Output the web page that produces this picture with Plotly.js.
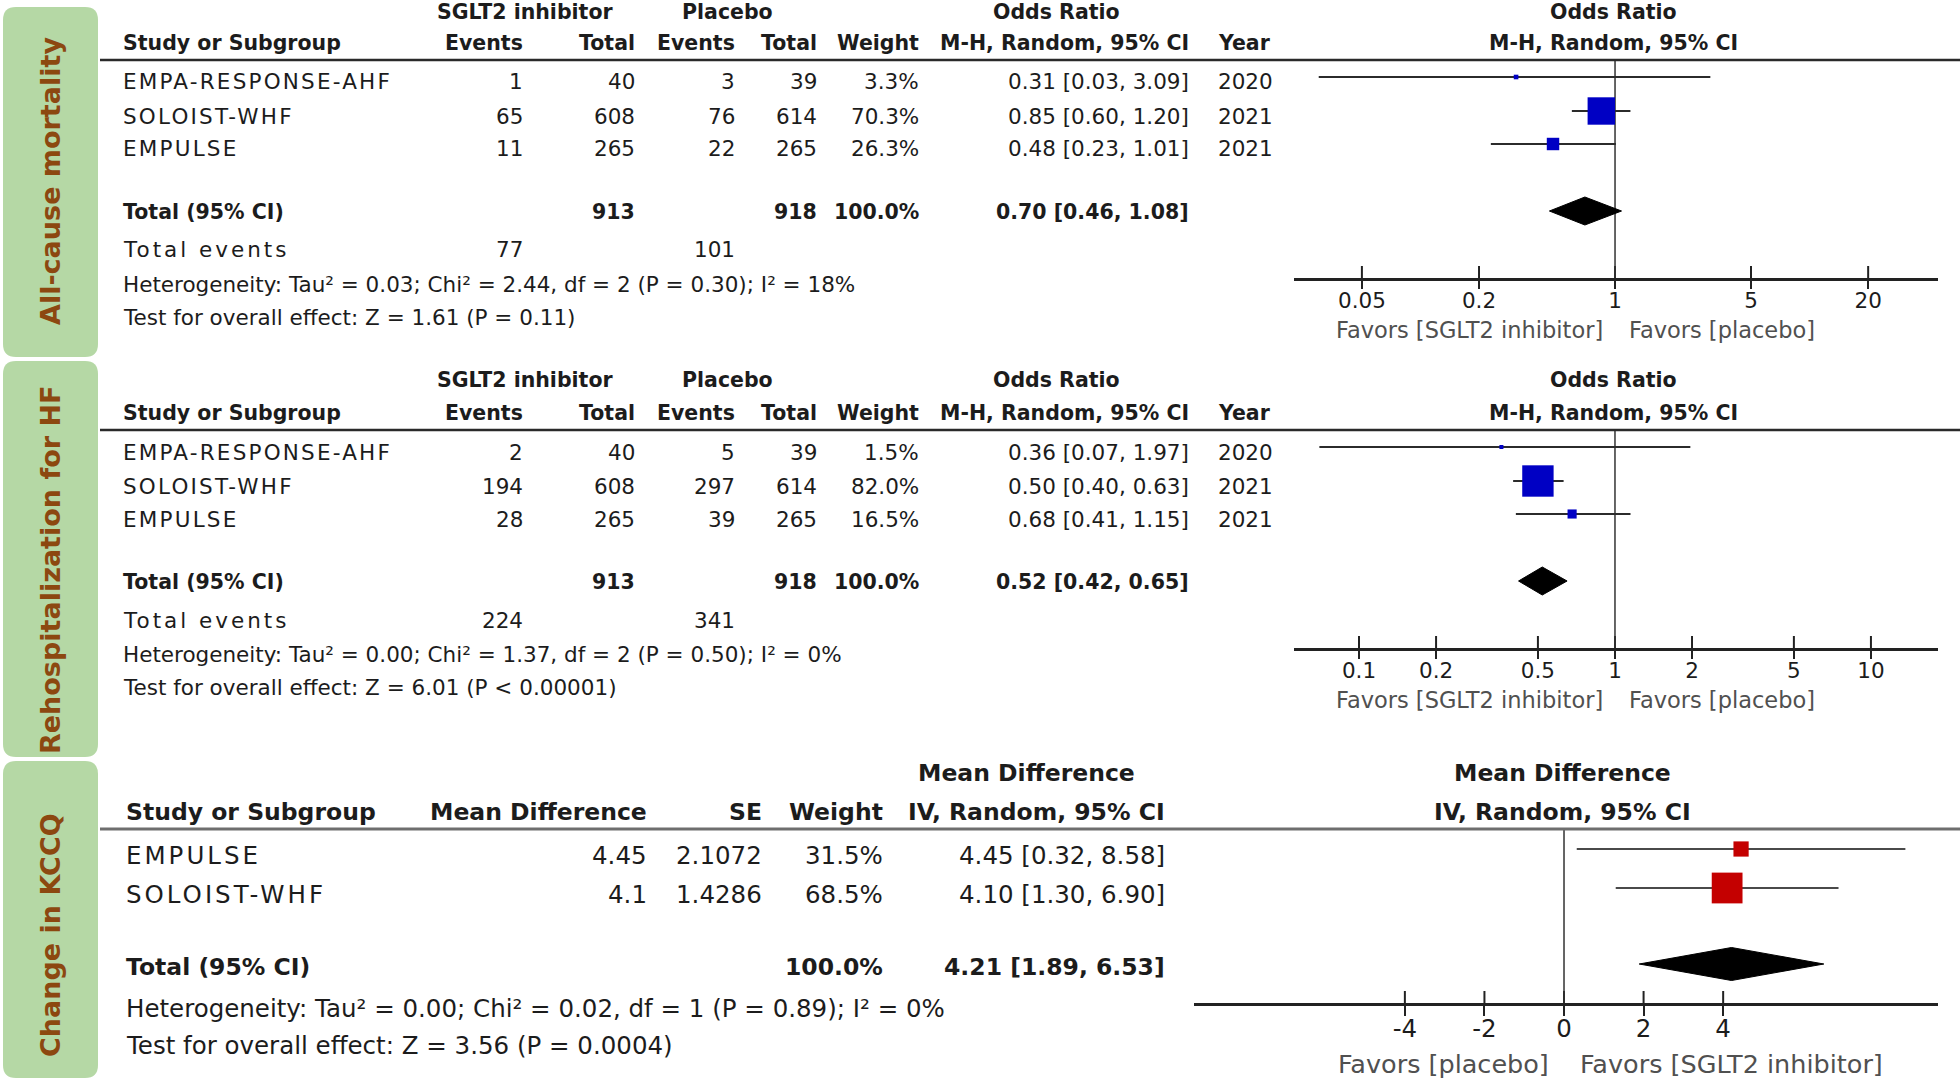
<!DOCTYPE html>
<html><head><meta charset="utf-8">
<script src="https://cdn.plot.ly/plotly-3.0.1.min.js"></script>
<style>html,body{margin:0;padding:0;background:#fff}#chart{width:1960px;height:1084px}</style>
</head><body><div id="chart"></div>
<script>
// ---------------- DATA ----------------
const sectionLabels = ['All-cause mortality', 'Rehospitalization for HF', 'Change in KCCQ'];

const orStudies = ['EMPA-RESPONSE-AHF', 'SOLOIST-WHF', 'EMPULSE'];
const orYears = ['2020', '2021', '2021'];

const mortSgltEvents = [1, 65, 11];
const mortSgltTotal = [40, 608, 265];
const mortPlacEvents = [3, 76, 22];
const mortPlacTotal = [39, 614, 265];
const mortWeight = [3.3, 70.3, 26.3];
const mortOR = [0.31, 0.85, 0.48];
const mortLow = [0.03, 0.60, 0.23];
const mortHigh = [3.09, 1.20, 1.01];
const mortPooled = [0.70, 0.46, 1.08];
const mortTotals = [913, 918];
const mortTotalEvents = [77, 101];
const mortHet = 'Heterogeneity: Tau² = 0.03; Chi² = 2.44, df = 2 (P = 0.30); I² = 18%';
const mortTest = 'Test for overall effect: Z = 1.61 (P = 0.11)';
const mortTicks = [0.05, 0.2, 1, 5, 20];

const hfSgltEvents = [2, 194, 28];
const hfSgltTotal = [40, 608, 265];
const hfPlacEvents = [5, 297, 39];
const hfPlacTotal = [39, 614, 265];
const hfWeight = [1.5, 82.0, 16.5];
const hfOR = [0.36, 0.50, 0.68];
const hfLow = [0.07, 0.40, 0.41];
const hfHigh = [1.97, 0.63, 1.15];
const hfPooled = [0.52, 0.42, 0.65];
const hfTotals = [913, 918];
const hfTotalEvents = [224, 341];
const hfHet = 'Heterogeneity: Tau² = 0.00; Chi² = 1.37, df = 2 (P = 0.50); I² = 0%';
const hfTest = 'Test for overall effect: Z = 6.01 (P &lt; 0.00001)';
const hfTicks = [0.1, 0.2, 0.5, 1, 2, 5, 10];

const kcStudies = ['EMPULSE', 'SOLOIST-WHF'];
const kcMD = [4.45, 4.1];
const kcSE = [2.1072, 1.4286];
const kcWeight = [31.5, 68.5];
const kcLow = [0.32, 1.30];
const kcHigh = [8.58, 6.90];
const kcPooled = [4.21, 1.89, 6.53];
const kcHet = 'Heterogeneity: Tau² = 0.00; Chi² = 0.02, df = 1 (P = 0.89); I² = 0%';
const kcTest = 'Test for overall effect: Z = 3.56 (P = 0.0004)';
const kcTicks = [-4, -2, 0, 2, 4];

// ---------------- LAYOUT HELPERS ----------------
const W = 1960, H = 1084;
const X = p => p / W, Y = p => 1 - p / H;
const FONT = 'DejaVu Sans, Verdana, sans-serif';
const TXT = '#1c1c1c';
const annotations = [], shapes = [], traces = [];

function T(text, x, y, anchor, size, bold, color) {
  annotations.push({
    text: bold ? '<b>' + text + '</b>' : text,
    x: X(x), y: Y(y), xref: 'paper', yref: 'paper',
    xanchor: anchor, yanchor: 'middle', showarrow: false,
    font: {family: FONT, size: size, color: color || TXT}
  });
}
const spaced = (t, s) => '<span style="letter-spacing:' + s + 'px">' + t + '</span>';
const f2 = v => v.toFixed(2);
const ci = (e, l, h) => f2(e) + ' [' + f2(l) + ', ' + f2(h) + ']';
const pct = v => v.toFixed(1) + '%';

function rr(x0, y0, x1, y1, r) {
  const P = (x, y) => X(x) + ',' + Y(y);
  return 'M' + P(x0 + r, y0) + ' L' + P(x1 - r, y0) + ' Q' + P(x1, y0) + ' ' + P(x1, y0 + r) +
    ' L' + P(x1, y1 - r) + ' Q' + P(x1, y1) + ' ' + P(x1 - r, y1) +
    ' L' + P(x0 + r, y1) + ' Q' + P(x0, y1) + ' ' + P(x0, y1 - r) +
    ' L' + P(x0, y0 + r) + ' Q' + P(x0, y0) + ' ' + P(x0 + r, y0) + ' Z';
}

// sidebars
const sideBoxes = [[3, 7, 98, 357], [3, 361, 98, 757], [3, 761, 98, 1078]];
const sideCenters = [181, 570, 935];
sideBoxes.forEach((b, i) => {
  shapes.push({type: 'path', xref: 'paper', yref: 'paper', path: rr(b[0], b[1], b[2], b[3], 13),
    fillcolor: '#b5d8a5', line: {width: 0}, layer: 'below'});
  annotations.push({text: '<b>' + sectionLabels[i] + '</b>', x: X(50), y: Y(sideCenters[i]),
    xref: 'paper', yref: 'paper', xanchor: 'center', yanchor: 'middle', showarrow: false,
    textangle: -90, font: {family: FONT, size: 27, color: '#8c4810'}});
});

function hline(y, color, width) {
  shapes.push({type: 'line', xref: 'paper', yref: 'paper', x0: X(100), x1: X(1960), y0: Y(y), y1: Y(y),
    line: {color: color, width: width}});
}

// forest subplot axes
const layoutAxes = {};
function forestAxes(id, cfg, type, range, ticks, tickSize) {
  const xa = 'xaxis' + (id === 1 ? '' : id), ya = 'yaxis' + (id === 1 ? '' : id);
  const xs = 'x' + (id === 1 ? '' : id), ys = 'y' + (id === 1 ? '' : id);
  layoutAxes[xa] = {type: type, range: range, domain: [X(cfg.axL), X(cfg.axR)], anchor: ys,
    showgrid: false, zeroline: false, showline: true, linecolor: '#222', linewidth: 2.5,
    ticks: 'outside', ticklen: cfg.tickDown, tickwidth: 2, tickcolor: '#222',
    ticklabelstandoff: cfg.standoff,
    tickmode: 'array', tickvals: ticks, ticktext: ticks.map(String),
    tickfont: {family: FONT, size: tickSize, color: TXT}, fixedrange: true};
  layoutAxes[ya] = {range: [cfg.axis, cfg.line], domain: [Y(cfg.axis), Y(cfg.line)], anchor: xs,
    showgrid: false, zeroline: false, showline: false, showticklabels: false, ticks: '', fixedrange: true};
  // upper half of tick marks
  traces.push({x: ticks, y: ticks.map(() => cfg.axis - cfg.tickUp / 2), xaxis: xs, yaxis: ys,
    mode: 'markers', cliponaxis: false, hoverinfo: 'skip',
    marker: {symbol: 'line-ns', size: cfg.tickUp, opacity: 1, line: {width: 2, color: '#222'}}});
  return [xs, ys];
}

function forestMarks(ax, nullVal, est, low, high, w, ys, color, sizeFn, pooled, diaY, diaH, ciColor) {
  traces.push({x: [nullVal, nullVal], y: [ax.cfg.line, ax.cfg.axis], xaxis: ax.xs, yaxis: ax.ys,
    mode: 'lines', line: {color: '#333', width: 1.5}, hoverinfo: 'skip', cliponaxis: false});
  const lx = [], ly = [];
  est.forEach((e, i) => { lx.push(low[i], high[i], null); ly.push(ys[i], ys[i], null); });
  traces.push({x: lx, y: ly, xaxis: ax.xs, yaxis: ax.ys, mode: 'lines',
    line: {color: ciColor, width: 2}, hoverinfo: 'skip'});
  traces.push({x: est, y: ys, xaxis: ax.xs, yaxis: ax.ys, mode: 'markers', hoverinfo: 'skip',
    marker: {symbol: 'square', size: w.map(sizeFn), color: color, opacity: 1, line: {width: 0}}});
  traces.push({x: [pooled[1], pooled[0], pooled[2], pooled[0], pooled[1]],
    y: [diaY, diaY - diaH, diaY, diaY + diaH, diaY], xaxis: ax.xs, yaxis: ax.ys,
    mode: 'lines', fill: 'toself', fillcolor: '#000', line: {color: '#000', width: 1}, hoverinfo: 'skip'});
}

// ---------------- OR PANELS ----------------
const orCols = {name: 121, evE: 525, totE: 637, evC: 737, totC: 819, wt: 921, ci: 1191, year: 1216,
  h1E: 525, h1C: 727, h1OR: 1056, right: 1613};
function orPanel(id, cfg, d) {
  const c = orCols, hs = 20.5, bs = 21.5;
  T('SGLT2 inhibitor', c.h1E, cfg.h1, 'center', hs, true);
  T('Placebo', c.h1C, cfg.h1, 'center', hs, true);
  T('Odds Ratio', c.h1OR, cfg.h1, 'center', hs, true);
  T('Odds Ratio', c.right, cfg.h1, 'center', hs, true);
  T('Study or Subgroup', c.name, cfg.h2, 'left', hs, true);
  T('Events', c.evE, cfg.h2, 'right', hs, true);
  T('Total', c.totE, cfg.h2, 'right', hs, true);
  T('Events', c.evC, cfg.h2, 'right', hs, true);
  T('Total', c.totC, cfg.h2, 'right', hs, true);
  T('Weight', c.wt, cfg.h2, 'right', hs, true);
  T('M-H, Random, 95% CI', c.ci, cfg.h2, 'right', hs, true);
  T('Year', c.year, cfg.h2, 'left', hs, true);
  T('M-H, Random, 95% CI', c.right, cfg.h2, 'center', hs, true);
  hline(cfg.line, '#2a2a2a', 2.5);
  orStudies.forEach((s, i) => {
    const y = cfg.rows[i];
    T(spaced(s, 2.2), c.name, y, 'left', bs);
    T(String(d.se[i]), c.evE, y, 'right', bs);
    T(String(d.st[i]), c.totE, y, 'right', bs);
    T(String(d.pe[i]), c.evC, y, 'right', bs);
    T(String(d.pt[i]), c.totC, y, 'right', bs);
    T(pct(d.w[i]), c.wt, y, 'right', bs);
    T(ci(d.or[i], d.lo[i], d.hi[i]), c.ci, y, 'right', bs);
    T(orYears[i], c.year, y, 'left', bs);
  });
  T('Total (95% CI)', c.name, cfg.total, 'left', hs, true);
  T(String(d.tot[0]), c.totE, cfg.total, 'right', hs, true);
  T(String(d.tot[1]), c.totC, cfg.total, 'right', hs, true);
  T('100.0%', c.wt, cfg.total, 'right', hs, true);
  T(ci(d.pool[0], d.pool[1], d.pool[2]), c.ci, cfg.total, 'right', hs, true);
  T(spaced('Total events', 3), c.name, cfg.tev, 'left', bs);
  T(String(d.tev[0]), c.evE, cfg.tev, 'right', bs);
  T(String(d.tev[1]), c.evC, cfg.tev, 'right', bs);
  T(d.het, c.name, cfg.het, 'left', bs);
  T(d.test, c.name, cfg.test, 'left', bs);
  T('Favors [SGLT2 inhibitor]', 1605, cfg.fav, 'right', 22.5, false, '#505050');
  T('Favors [placebo]', 1627, cfg.fav, 'left', 22.5, false, '#505050');
  const [xs, ys] = forestAxes(id, cfg, 'log', cfg.range, d.ticks, bs);
  forestMarks({cfg, xs, ys}, 1, d.or, d.lo, d.hi, d.w, cfg.rows.map(r => r - 5), '#0000c4',
    w => 3.5 + 0.34 * w, d.pool, cfg.dia, 14, '#2b2b2b');
}

orPanel(1, {h1: 12, h2: 43, line: 60, rows: [82, 116, 149], total: 212, tev: 250, het: 284, test: 317,
  axis: 278, dia: 211, fav: 330, axL: 1294, axR: 1938, range: [-1.65, 1.66], tickUp: 10, tickDown: 8, standoff: -6},
  {se: mortSgltEvents, st: mortSgltTotal, pe: mortPlacEvents, pt: mortPlacTotal, w: mortWeight,
   or: mortOR, lo: mortLow, hi: mortHigh, pool: mortPooled, tot: mortTotals, tev: mortTotalEvents,
   het: mortHet, test: mortTest, ticks: mortTicks});

orPanel(2, {h1: 380, h2: 413, line: 430, rows: [452, 486, 519], total: 582, tev: 620, het: 654, test: 687,
  axis: 648, dia: 581, fav: 700, axL: 1294, axR: 1938, range: [-1.254, 1.262], tickUp: 10, tickDown: 8, standoff: -6},
  {se: hfSgltEvents, st: hfSgltTotal, pe: hfPlacEvents, pt: hfPlacTotal, w: hfWeight,
   or: hfOR, lo: hfLow, hi: hfHigh, pool: hfPooled, tot: hfTotals, tev: hfTotalEvents,
   het: hfHet, test: hfTest, ticks: hfTicks});

// ---------------- KCCQ PANEL ----------------
(function () {
  const cfg = {h1: 773, h2: 812, line: 829, rows: [855, 894], total: 967, het: 1008, test: 1045,
    axis: 1003, dia: 964, fav: 1064, axL: 1194, axR: 1938, tickUp: 10, tickDown: 10, standoff: -8};
  const hs = 23.5, bs = 24.5;
  T('Mean Difference', 1026, cfg.h1, 'center', hs, true);
  T('Mean Difference', 1562, cfg.h1, 'center', hs, true);
  T('Study or Subgroup', 124, cfg.h2, 'left', hs, true);
  T('Mean Difference', 649, cfg.h2, 'right', hs, true);
  T('SE', 764, cfg.h2, 'right', hs, true);
  T('Weight', 885, cfg.h2, 'right', hs, true);
  T('IV, Random, 95% CI', 1167, cfg.h2, 'right', hs, true);
  T('IV, Random, 95% CI', 1562, cfg.h2, 'center', hs, true);
  hline(cfg.line, '#6e6e6e', 3);
  kcStudies.forEach((s, i) => {
    const y = cfg.rows[i];
    T(spaced(s, 3), 124, y, 'left', bs);
    T(String(kcMD[i]), 649, y, 'right', bs);
    T(String(kcSE[i]), 764, y, 'right', bs);
    T(pct(kcWeight[i]), 885, y, 'right', bs);
    T(ci(kcMD[i], kcLow[i], kcHigh[i]), 1167, y, 'right', bs);
  });
  T('Total (95% CI)', 124, cfg.total, 'left', hs, true);
  T('100.0%', 885, cfg.total, 'right', hs, true);
  T(ci(kcPooled[0], kcPooled[1], kcPooled[2]), 1167, cfg.total, 'right', hs, true);
  T(kcHet, 124, cfg.het, 'left', bs);
  T(kcTest, 124, cfg.test, 'left', bs);
  T('Favors [placebo]', 1551, cfg.fav, 'right', 25.5, false, '#505050');
  T('Favors [SGLT2 inhibitor]', 1578, cfg.fav, 'left', 25.5, false, '#505050');
  const [xs, ys] = forestAxes(3, cfg, 'linear', [-9.3, 9.4], kcTicks, bs);
  forestMarks({cfg, xs, ys}, 0, kcMD, kcLow, kcHigh, kcWeight, cfg.rows.map(r => r - 6), '#c40000',
    w => 2 + 0.42 * w, kcPooled, cfg.dia, 16.5, '#4a4a4a');
})();

const layout = Object.assign({
  width: W, height: H, margin: {l: 0, r: 0, t: 0, b: 0, pad: 0},
  paper_bgcolor: '#fff', plot_bgcolor: 'rgba(0,0,0,0)', showlegend: false, hovermode: false,
  annotations: annotations, shapes: shapes, font: {family: FONT, color: TXT}
}, layoutAxes);

Plotly.newPlot('chart', traces, layout, {displayModeBar: false, staticPlot: true});
</script></body></html>
